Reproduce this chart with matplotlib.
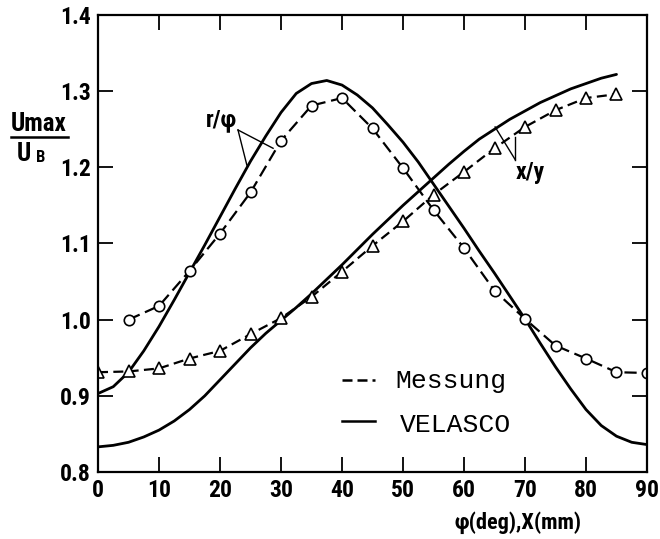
import matplotlib
matplotlib.use("Agg")
import matplotlib.pyplot as plt
from matplotlib.lines import Line2D
from matplotlib import font_manager

# ---- data -------------------------------------------------------------
# measured r/phi (circles)
phi_meas = [5, 10, 15, 20, 25, 30, 35, 40, 45, 50, 55, 60, 65, 70, 75, 80, 85, 90]
rphi_meas = [1.000, 1.018, 1.064, 1.113, 1.167, 1.235, 1.281, 1.291, 1.251, 1.199,
             1.144, 1.094, 1.038, 1.001, 0.966, 0.949, 0.931, 0.930]

# measured x/y (triangles)
x_meas = [0, 5, 10, 15, 20, 25, 30, 35, 40, 45, 50, 55, 60, 65, 70, 75, 80, 85]
xy_meas = [0.931, 0.932, 0.936, 0.949, 0.959, 0.981, 1.002, 1.030, 1.063, 1.097,
           1.129, 1.164, 1.194, 1.225, 1.253, 1.275, 1.291, 1.296]

# VELASCO calculation, r/phi
phi_calc = [0, 2.5, 5, 7.5, 10, 12.5, 15, 17.5, 20, 22.5, 25, 27.5, 30, 32.5, 35,
            37.5, 40, 42.5, 45, 47.5, 50, 52.5, 55, 57.5, 60, 62.5, 65, 67.5, 70,
            72.5, 75, 77.5, 80, 82.5, 85, 87.5, 90]
rphi_calc = [0.903, 0.912, 0.931, 0.959, 0.991, 1.026, 1.062, 1.098, 1.135, 1.172,
             1.208, 1.241, 1.272, 1.297, 1.310, 1.314, 1.308, 1.295, 1.278, 1.256,
             1.233, 1.207, 1.178, 1.149, 1.120, 1.090, 1.061, 1.031, 1.001, 0.969,
             0.938, 0.909, 0.882, 0.861, 0.847, 0.839, 0.836]

# VELASCO calculation, x/y
x_calc = [0, 2.5, 5, 7.5, 10, 12.5, 15, 17.5, 20, 22.5, 25, 27.5, 30, 32.5, 35,
          37.5, 40, 42.5, 45, 47.5, 50, 52.5, 55, 57.5, 60, 62.5, 65, 67.5, 70,
          72.5, 75, 77.5, 80, 82.5, 85]
xy_calc = [0.833, 0.835, 0.839, 0.846, 0.855, 0.867, 0.882, 0.900, 0.921, 0.942,
           0.963, 0.982, 0.999, 1.016, 1.034, 1.053, 1.072, 1.092, 1.112, 1.131,
           1.150, 1.168, 1.186, 1.204, 1.221, 1.237, 1.250, 1.263, 1.274, 1.285,
           1.294, 1.303, 1.310, 1.317, 1.322]

x_ticks = [0, 10, 20, 30, 40, 50, 60, 70, 80, 90]
y_ticks = [0.8, 0.9, 1.0, 1.1, 1.2, 1.3, 1.4]
legend_labels = ["Messung", "VELASCO"]

# ---- fonts ------------------------------------------------------------
installed = {f.name for f in font_manager.fontManager.ttflist}
label_font = [f for f in ["Roboto Condensed", "Liberation Sans Narrow",
                          "Roboto", "DejaVu Sans"] if f in installed]
mono_font = [f for f in ["Liberation Mono", "DejaVu Sans Mono"] if f in installed]

# ---- figure -----------------------------------------------------------
fig = plt.figure(figsize=(6.6, 5.39), dpi=100)
ax = fig.add_axes([0.1485, 0.1243, 0.8318, 0.8479])

dash = (5.5, 2.6)
ax.plot(phi_calc, rphi_calc, color="black", lw=2.0, solid_capstyle="round")
ax.plot(x_calc, xy_calc, color="black", lw=2.0, solid_capstyle="round")
ax.plot(phi_meas, rphi_meas, color="black", lw=1.6, dashes=dash,
        marker="o", ms=7.5, mfc="white", mec="black", mew=1.2)
ax.plot(x_meas, xy_meas, color="black", lw=1.6, dashes=(4.5, 2.4),
        marker="^", ms=8, mfc="white", mec="black", mew=1.2)

ax.set_xlim(0, 90)
ax.set_ylim(0.8, 1.4)
ax.set_xticks(x_ticks)
ax.set_yticks(y_ticks)
ax.set_xticklabels([str(v) for v in x_ticks])
ax.set_yticklabels([f"{v:.1f}" for v in y_ticks])
ax.tick_params(direction="in", length=11, width=1.3, top=True, right=True,
               labelsize=17, pad=5, colors="black")
for lab in ax.get_xticklabels() + ax.get_yticklabels():
    lab.set_fontfamily(label_font)
    lab.set_fontweight("bold")
for sp in ax.spines.values():
    sp.set_linewidth(1.6)

ax.set_xlabel("φ(deg),X(mm)", fontsize=16, fontweight="bold",
              fontfamily=label_font)
ax.xaxis.set_label_coords(0.765, -0.085)

# y label as a fraction  U_max / U_B
fig.text(0.058, 0.770, "Umax", fontsize=18, fontweight="bold",
         fontfamily=label_font, ha="center", va="center")
fig.add_artist(Line2D([0.016, 0.103], [0.746, 0.746], color="black", lw=1.8,
                      transform=fig.transFigure))
fig.text(0.036, 0.715, "U", fontsize=18, fontweight="bold",
         fontfamily=label_font, ha="center", va="center")
fig.text(0.061, 0.708, "B", fontsize=12, fontweight="bold",
         fontfamily=label_font, ha="center", va="center")

# curve annotations with leader lines
ax.text(20.3, 1.262, "r/φ", fontsize=17, fontweight="bold",
        fontfamily=label_font, ha="center", va="center")
ax.plot([22.95, 28.7], [1.249, 1.225], color="black", lw=1.0)
ax.plot([22.95, 24.4], [1.249, 1.203], color="black", lw=1.0)

ax.text(70.9, 1.193, "x/y", fontsize=17, fontweight="bold",
        fontfamily=label_font, ha="center", va="center")
ax.plot([65.1, 68.4], [1.253, 1.210], color="black", lw=1.0)
ax.plot([68.4, 68.4], [1.240, 1.210], color="black", lw=1.0)

# hand-placed legend
ax.plot([40.0, 45.4], [0.921, 0.921], color="black", lw=1.8, dashes=(4, 2))
ax.text(48.7, 0.919, legend_labels[0], fontsize=19, fontfamily=mono_font,
        ha="left", va="center")
ax.plot([40.0, 45.4], [0.867, 0.867], color="black", lw=1.8)
ax.text(49.5, 0.862, legend_labels[1], fontsize=19, fontfamily=mono_font,
        ha="left", va="center")

fig.savefig("out.png", dpi=100)
